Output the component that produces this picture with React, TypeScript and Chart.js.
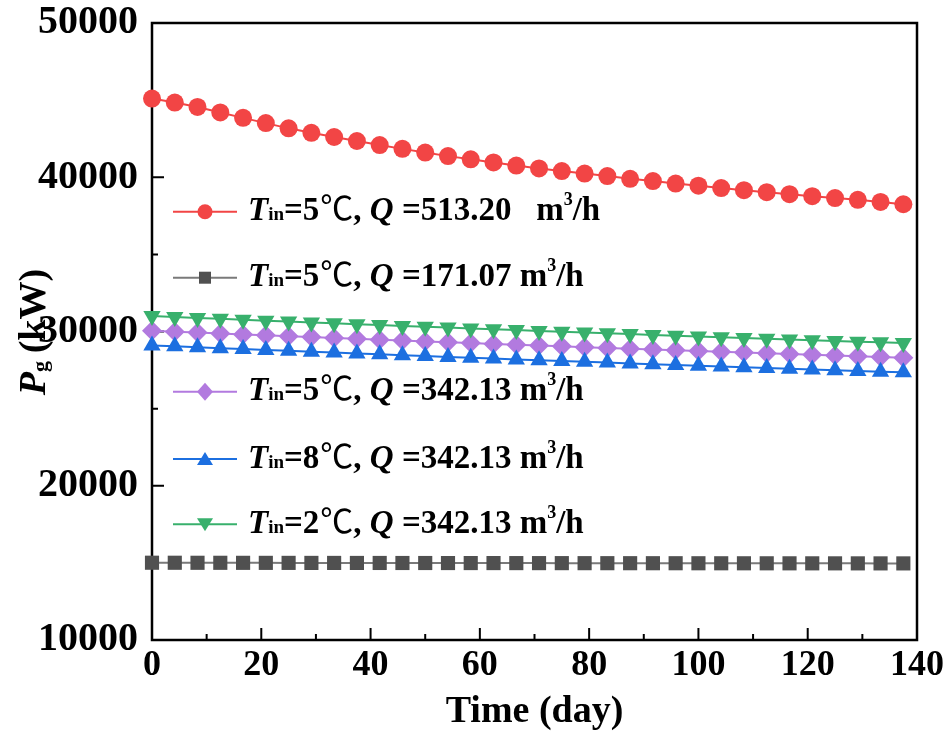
import React, { useEffect, useRef } from 'react';
import { Chart, registerables } from 'chart.js';

Chart.register(...registerables);

// Time axis (day)
const days = [0, 4.17, 8.33, 12.5, 16.67, 20.83, 25, 29.17, 33.33, 37.5, 41.67, 45.83, 50, 54.17, 58.33, 62.5, 66.67, 70.83, 75, 79.17, 83.33, 87.5, 91.67, 95.83, 100, 104.17, 108.33, 112.5, 116.67, 120.83, 125, 129.17, 133.33, 137.5];

// Pg (kW) for each case
const pgT5Q513 = [45100, 44840, 44560, 44200, 43850, 43510, 43170, 42880, 42610, 42350, 42090, 41840, 41600, 41370, 41160, 40960, 40760, 40570, 40400, 40240, 40080, 39900, 39750, 39590, 39450, 39300, 39160, 39030, 38900, 38770, 38650, 38540, 38400, 38250];
const pgT5Q171 = [15010, 15008, 15006, 15005, 15003, 15001, 15000, 14998, 14997, 14995, 14994, 14992, 14991, 14989, 14988, 14987, 14985, 14984, 14983, 14981, 14980, 14979, 14978, 14977, 14975, 14974, 14973, 14972, 14971, 14970, 14969, 14968, 14967, 14966];
const pgT5Q342 = [30050, 29990, 29930, 29871, 29813, 29754, 29697, 29639, 29582, 29526, 29470, 29414, 29359, 29304, 29250, 29196, 29142, 29090, 29037, 28985, 28933, 28882, 28831, 28781, 28731, 28681, 28632, 28584, 28535, 28488, 28440, 28393, 28347, 28301];
const pgT8Q342 = [29100, 29040, 28980, 28921, 28863, 28804, 28747, 28689, 28632, 28576, 28520, 28464, 28409, 28354, 28300, 28246, 28192, 28140, 28087, 28035, 27983, 27932, 27881, 27831, 27781, 27731, 27682, 27634, 27585, 27538, 27490, 27443, 27397, 27351];
const pgT2Q342 = [31000, 30940, 30880, 30821, 30763, 30704, 30647, 30589, 30532, 30476, 30420, 30364, 30309, 30254, 30200, 30146, 30092, 30040, 29987, 29935, 29883, 29832, 29781, 29731, 29681, 29631, 29582, 29534, 29485, 29438, 29390, 29343, 29297, 29251];

// Legend texts: [temperature, flow]
const legendTemps = ['5', '5', '5', '8', '2'];
const legendFlows = ['513.20   m', '171.07 m', '342.13 m', '342.13 m', '342.13 m'];

const xTitle = 'Time (day)';

const FAM = '"Liberation Serif", "Times New Roman", "DejaVu Serif", serif';
const CJK = '"Noto Sans CJK SC", "DejaVu Serif", serif';

const RED = '#F24545';
const GRAY = '#505050';
const GRAY_LINE = '#7a7a7a';
const PURPLE = '#B27ADF';
const BLUE = '#1C6FE0';
const GREEN = '#38B06C';

type Marker = 'circle' | 'square' | 'diamond' | 'up' | 'down';

const legendRows: { y: number; color: string; line: string; marker: Marker }[] = [
  { y: 211.7, color: RED, line: RED, marker: 'circle' },
  { y: 277.7, color: GRAY, line: GRAY_LINE, marker: 'square' },
  { y: 391.7, color: PURPLE, line: PURPLE, marker: 'diamond' },
  { y: 459, color: BLUE, line: BLUE, marker: 'up' },
  { y: 524.3, color: GREEN, line: GREEN, marker: 'down' },
];

function drawMarker(ctx: CanvasRenderingContext2D, m: Marker, x: number, y: number, color: string) {
  ctx.fillStyle = color;
  ctx.beginPath();
  if (m === 'circle') {
    ctx.arc(x, y, 7.5, 0, Math.PI * 2);
  } else if (m === 'square') {
    ctx.rect(x - 6, y - 6, 12, 12);
  } else if (m === 'diamond') {
    ctx.moveTo(x, y - 9);
    ctx.lineTo(x + 8, y);
    ctx.lineTo(x, y + 9);
    ctx.lineTo(x - 8, y);
    ctx.closePath();
  } else if (m === 'up') {
    ctx.moveTo(x, y - 7);
    ctx.lineTo(x + 8, y + 6);
    ctx.lineTo(x - 8, y + 6);
    ctx.closePath();
  } else {
    ctx.moveTo(x, y + 7);
    ctx.lineTo(x + 8, y - 6);
    ctx.lineTo(x - 8, y - 6);
    ctx.closePath();
  }
  ctx.fill();
}

const framePlugin = {
  id: 'frameTicks',
  beforeDatasetsDraw(chart: any) {
    const { ctx, chartArea } = chart;
    const { left, right, top, bottom } = chartArea;
    const xs = chart.scales.x;
    const ys = chart.scales.y;
    ctx.save();
    ctx.strokeStyle = '#000';
    ctx.lineWidth = 2.5;
    ctx.strokeRect(left, top, right - left, bottom - top);
    ctx.lineWidth = 2;
    ctx.beginPath();
    for (let v = xs.min; v <= xs.max; v += 10) {
      const px = xs.getPixelForValue(v);
      const len = v % 20 === 0 ? 12 : 6;
      ctx.moveTo(px, bottom);
      ctx.lineTo(px, bottom - len);
    }
    for (let v = ys.min; v <= ys.max; v += 5000) {
      const py = ys.getPixelForValue(v);
      const len = v % 10000 === 0 ? 12 : 6;
      ctx.moveTo(left, py);
      ctx.lineTo(left + len, py);
    }
    ctx.stroke();
    ctx.restore();
  },
};

const legendPlugin = {
  id: 'richLegend',
  afterDatasetsDraw(chart: any) {
    const { ctx } = chart;
    ctx.save();
    legendRows.forEach((row, i) => {
      ctx.strokeStyle = row.line;
      ctx.lineWidth = 2;
      ctx.beginPath();
      ctx.moveTo(173, row.y);
      ctx.lineTo(237, row.y);
      ctx.stroke();
      drawMarker(ctx, row.marker, 205, row.y, row.color);

      const base = row.y + 8.5;
      const parts: { t: string; f: string; dy: number; minW?: number; dx?: number }[] = [
        { t: 'T', f: `italic bold 33px ${FAM}`, dy: 0 },
        { t: 'in', f: `bold 19px ${FAM}`, dy: 0 },
        { t: `=${legendTemps[i]}`, f: `bold 33px ${FAM}`, dy: 0 },
        { t: '\u2103', f: `normal 33px ${CJK}`, dy: 0, minW: 34, dx: 3 },
        { t: ', ', f: `bold 33px ${FAM}`, dy: 0 },
        { t: 'Q', f: `italic bold 33px ${FAM}`, dy: 0 },
        { t: ` =${legendFlows[i]}`, f: `bold 33px ${FAM}`, dy: 0 },
        { t: '3', f: `bold 18px ${FAM}`, dy: -15 },
        { t: '/h', f: `bold 33px ${FAM}`, dy: 0 },
      ];
      let x = 248;
      ctx.fillStyle = '#000';
      ctx.textBaseline = 'alphabetic';
      ctx.textAlign = 'left';
      for (const p of parts) {
        ctx.font = p.f;
        const w = ctx.measureText(p.t).width;
        const adv = p.minW ? Math.max(w, p.minW) : w;
        const off = p.minW ? Math.min(p.dx || 0, adv - w) : 0;
        ctx.fillText(p.t, x + off, base + p.dy);
        x += adv;
      }
    });
    ctx.restore();
  },
};

const yTitlePlugin = {
  id: 'yTitle',
  afterDraw(chart: any) {
    const { ctx } = chart;
    const parts = [
      { t: 'P', f: `italic bold 38px ${FAM}`, dy: 0 },
      { t: 'g', f: `bold 22px ${FAM}`, dy: 2 },
      { t: '\u2009(kW)', f: `bold 38px ${FAM}`, dy: 0 },
    ];
    ctx.save();
    ctx.translate(45, 332);
    ctx.rotate(-Math.PI / 2);
    ctx.fillStyle = '#000';
    ctx.textBaseline = 'alphabetic';
    ctx.textAlign = 'left';
    let total = 0;
    for (const p of parts) {
      ctx.font = p.f;
      total += ctx.measureText(p.t).width;
    }
    let x = -total / 2;
    for (const p of parts) {
      ctx.font = p.f;
      ctx.fillText(p.t, x, p.dy);
      x += ctx.measureText(p.t).width;
    }
    ctx.restore();
  },
};

export default function App() {
  const ref = useRef<HTMLCanvasElement>(null);

  useEffect(() => {
    const canvas = ref.current;
    if (!canvas) return;
    const pts = (ys: number[]) => days.map((d, i) => ({ x: d, y: ys[i] }));
    const common = { borderWidth: 2, pointBorderWidth: 0, clip: false as any, tension: 0 };
    const chart = new Chart(canvas, {
      type: 'line',
      data: {
        datasets: [
          { ...common, label: 'T5Q513', data: pts(pgT5Q513), borderColor: RED, backgroundColor: RED, pointBackgroundColor: RED, pointStyle: 'circle', pointRadius: 9, order: 4 },
          { ...common, label: 'T5Q171', data: pts(pgT5Q171), borderColor: GRAY_LINE, backgroundColor: GRAY, pointBackgroundColor: GRAY, pointStyle: 'rect', pointRadius: 10, order: 3 },
          { ...common, label: 'T5Q342', data: pts(pgT5Q342), borderColor: PURPLE, backgroundColor: PURPLE, pointBackgroundColor: PURPLE, pointStyle: 'rectRot', pointRadius: 10, order: 2 },
          { ...common, label: 'T8Q342', data: pts(pgT8Q342), borderColor: BLUE, backgroundColor: BLUE, pointBackgroundColor: BLUE, pointStyle: 'triangle', pointRadius: 10, order: 1 },
          { ...common, label: 'T2Q342', data: pts(pgT2Q342), borderColor: GREEN, backgroundColor: GREEN, pointBackgroundColor: GREEN, pointStyle: 'triangle', pointRotation: 180, pointRadius: 10, order: 0 },
        ] as any,
      },
      options: {
        responsive: false,
        animation: false,
        layout: { padding: { left: 0, right: 27, top: 23, bottom: 0 } },
        plugins: { legend: { display: false }, tooltip: { enabled: false } },
        scales: {
          x: {
            type: 'linear',
            min: 0,
            max: 140,
            ticks: {
              stepSize: 20,
              color: '#000',
              padding: 4,
              maxRotation: 0,
              autoSkip: false,
              font: { family: FAM, size: 36, weight: 'bold' },
            },
            grid: { display: false, drawTicks: false, tickLength: 0 },
            border: { display: false },
            title: {
              display: true,
              text: xTitle,
              color: '#000',
              font: { family: FAM, size: 38, weight: 'bold', lineHeight: 1.2 },
              padding: { top: 0, bottom: 2 },
            },
            afterFit: (s: any) => {
              s.height = 97;
              s.paddingLeft = 0;
              s.paddingRight = 0;
            },
          },
          y: {
            type: 'linear',
            min: 10000,
            max: 50000,
            ticks: {
              stepSize: 10000,
              color: '#000',
              padding: 14,
              callback: (v: any) => String(v),
              font: { family: FAM, size: 40, weight: 'bold' },
            },
            grid: { display: false, drawTicks: false, tickLength: 0 },
            border: { display: false },
            afterFit: (s: any) => {
              s.width = 152;
              s.paddingTop = 0;
              s.paddingBottom = 0;
            },
          },
        },
      } as any,
      plugins: [framePlugin, legendPlugin, yTitlePlugin],
    });
    return () => chart.destroy();
  }, []);

  return (
    <div style={{ position: 'absolute', left: 0, top: 0, width: 944, height: 737, background: '#fff' }}>
      <canvas ref={ref} width={944} height={737} style={{ display: 'block', width: 944, height: 737 }} />
    </div>
  );
}
